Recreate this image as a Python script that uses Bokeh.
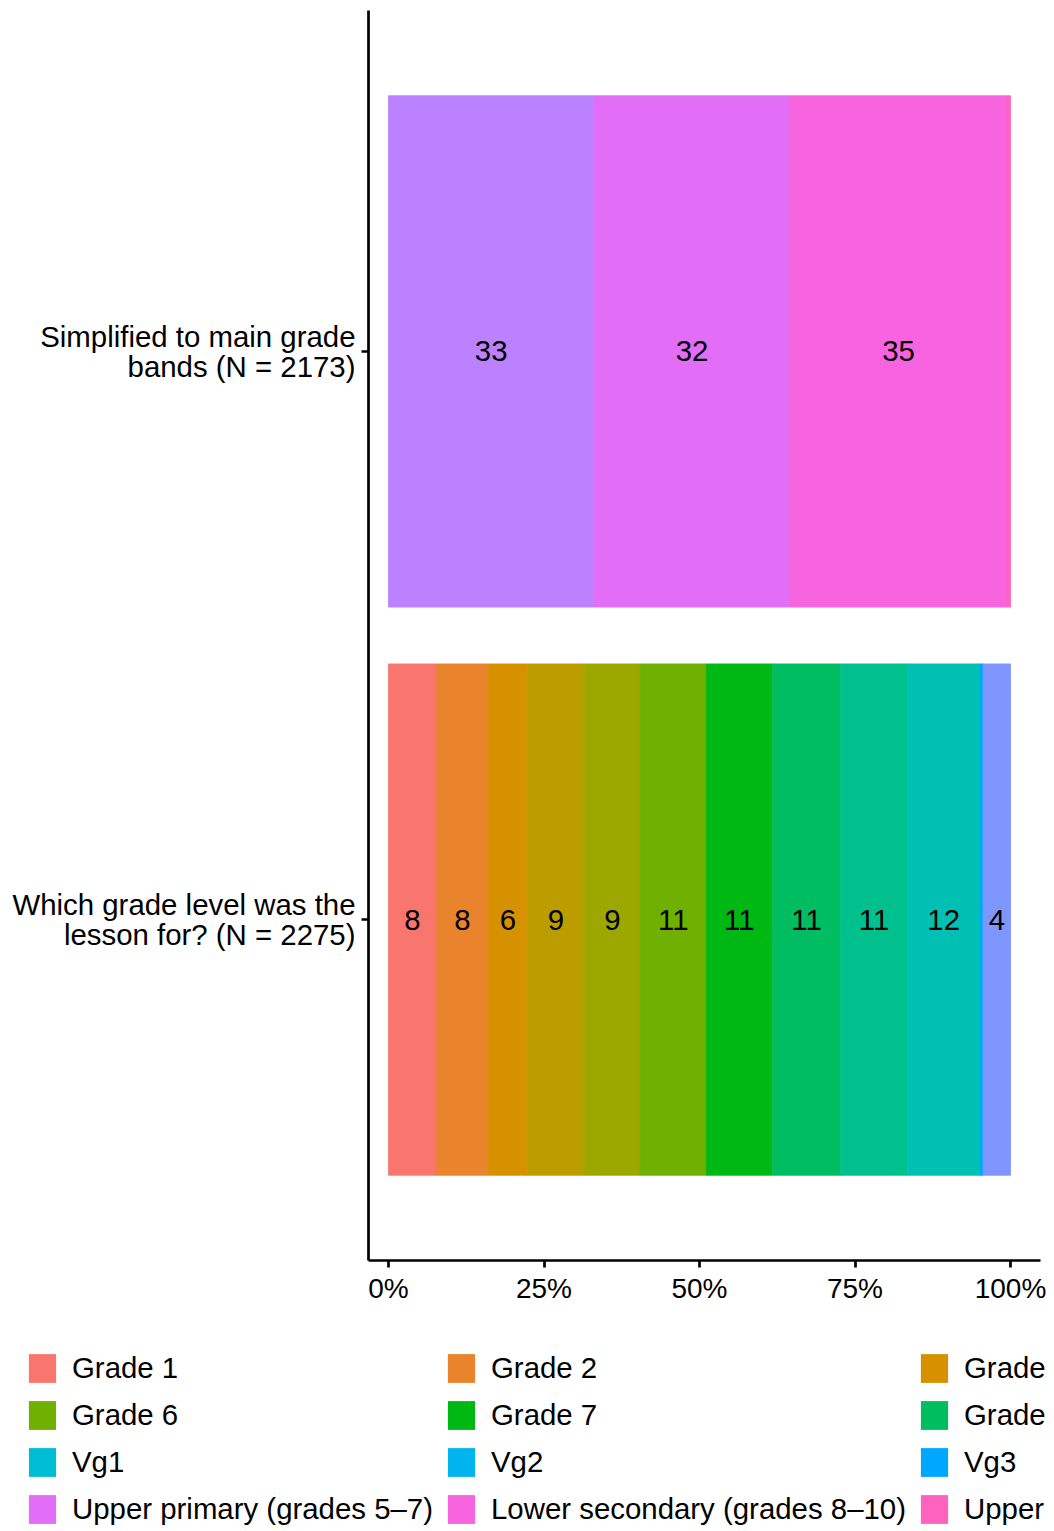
import math
from bokeh.plotting import figure
from bokeh.layouts import column
from bokeh.models import (ColumnDataSource, Range1d, FixedTicker, NumeralTickFormatter,
                          Legend, LegendItem)
from bokeh.core.properties import value
from bokeh.embed import file_html
from bokeh.resources import INLINE

# ---------------- data ----------------
categories = ["Grade 1", "Grade 2", "Grade 3", "Grade 4", "Grade 5",
              "Grade 6", "Grade 7", "Grade 8", "Grade 9", "Grade 10",
              "Vg1", "Vg2", "Vg3", "Other",
              "Lower primary (grades 1–4)", "Upper primary (grades 5–7)",
              "Lower secondary (grades 8–10)", "Upper secondary (Vg1–Vg3)"]

bar_labels = ["Which grade level was the\nlesson for? (N = 2275)",
              "Simplified to main grade\nbands (N = 2173)"]

# percent of each category within each bar
detailed_pct = [7.7, 8.4, 6.2, 9.2, 9.0, 10.6, 10.6, 11.0, 10.7, 11.7,
                0.0, 0.0, 0.5, 4.4, 0.0, 0.0, 0.0, 0.0]
simplified_pct = [0.0, 0.0, 0.0, 0.0, 0.0, 0.0, 0.0, 0.0, 0.0, 0.0,
                  0.0, 0.0, 0.0, 0.0, 33.0, 31.6, 34.8, 0.6]

x_ticks = [0, 0.25, 0.5, 0.75, 1.0]

# ---------------- style ----------------
FONT = "Liberation Sans"
FS = "29.4px"
FS_TICK = "28px"


def hcl_hex(h, c=100.0, l=65.0):
    hr = math.radians(h)
    u, v = c * math.cos(hr), c * math.sin(hr)
    Xn, Yn, Zn = 95.047, 100.0, 108.883
    Y = Yn * ((l + 16) / 116) ** 3
    den = Xn + 15 * Yn + 3 * Zn
    un, vn = 4 * Xn / den, 9 * Yn / den
    up, vp = u / (13 * l) + un, v / (13 * l) + vn
    X = 9.0 * Y * up / (4 * vp)
    Z = -X / 3 - 5 * Y + 3 * Y / vp
    X, Y, Z = X / 100, Y / 100, Z / 100
    r = 3.240479 * X - 1.537150 * Y - 0.498535 * Z
    g = -0.969256 * X + 1.875992 * Y + 0.041556 * Z
    b = 0.055648 * X - 0.204043 * Y + 1.057311 * Z

    def gam(t):
        t = 12.92 * t if t <= 0.0031308 else 1.055 * t ** (1 / 2.4) - 0.055
        return int(round(max(0.0, min(1.0, t)) * 255))
    return "#%02X%02X%02X" % (gam(r), gam(g), gam(b))


palette = [hcl_hex(15 + i * 360 / 19) for i in range(len(categories))]

# ---------------- main chart ----------------
p = figure(width=1046, height=1320, output_backend="svg", toolbar_location=None,
           x_range=Range1d(-20 / 622, 1 + 30 / 622), y_range=Range1d(0.4, 2.6),
           min_border_left=368, min_border_right=6, min_border_top=10,
           min_border_bottom=60)
p.frame_align = False
p.outline_line_color = None
p.xgrid.visible = False
p.ygrid.visible = False
p.background_fill_color = "white"

series = [detailed_pct, simplified_pct]
starts = []
for pct in series:
    acc = 0.0
    row = []
    for v in pct:
        row.append(acc)
        acc += v
    starts.append(row)

for ci, cat in enumerate(categories):
    ys, lefts, rights = [], [], []
    for bi, pct in enumerate(series):
        if pct[ci] > 0:
            ys.append(bi + 1)
            lefts.append(starts[bi][ci] / 100)
            rights.append((starts[bi][ci] + pct[ci]) / 100)
    src = ColumnDataSource(dict(y=ys, left=lefts, right=rights))
    p.hbar(y="y", left="left", right="right", height=0.9, source=src,
           fill_color=palette[ci], line_color=palette[ci], line_width=0.8)

# value labels
tx, ty, tt = [], [], []
for bi, pct in enumerate(series):
    for ci, v in enumerate(pct):
        if v >= 1:
            tx.append((starts[bi][ci] + v / 2) / 100)
            ty.append(bi + 1)
            tt.append(str(int(round(v))))
p.text(x=tx, y=ty, text=tt, text_align="center", text_baseline="middle",
       text_font=value(FONT), text_font_size=FS, text_color="black")

for ax in (p.xaxis[0], p.yaxis[0]):
    ax.axis_line_width = 2.7
    ax.axis_line_color = "black"
    ax.major_tick_line_width = 2.7
    ax.major_tick_line_color = "black"
    ax.major_tick_out = 7
    ax.major_tick_in = 0
    ax.minor_tick_line_color = None
    ax.major_label_text_font = FONT
    ax.major_label_text_color = "black"

p.xaxis.major_label_text_font_size = FS_TICK
p.xaxis.ticker = FixedTicker(ticks=x_ticks)
p.xaxis.formatter = NumeralTickFormatter(format="0%")
p.xaxis.major_label_standoff = 5

p.yaxis.major_label_text_font_size = FS
p.yaxis.ticker = FixedTicker(ticks=[1, 2])
p.yaxis.major_label_overrides = {1: bar_labels[0], 2: bar_labels[1]}
p.yaxis.major_label_standoff = 6
p.yaxis.major_label_text_line_height = 0.93

# ---------------- legend strip ----------------
lg = figure(width=1046, height=205, output_backend="svg", toolbar_location=None,
            x_range=Range1d(0, 1), y_range=Range1d(0, 1),
            x_axis_type=None, y_axis_type=None,
            min_border_left=25, min_border_top=30, min_border_right=0,
            min_border_bottom=0)
lg.frame_align = False
lg.outline_line_color = None

items = []
for ci, cat in enumerate(categories):
    # key renderer: one row placed outside the visible range, only its legend glyph shows
    r = lg.hbar(y=[-5], left=[0], right=[1], height=0.9,
                fill_color=palette[ci], line_color=None)
    items.append(LegendItem(label=cat, renderers=[r]))

legend = Legend(items=items, orientation="horizontal", ncols=5,
                location="top_left",
                glyph_width=34, glyph_height=36, label_standoff=13,
                spacing=11, padding=0, margin=0,
                label_text_font=FONT, label_text_font_size=FS,
                label_text_color="black",
                background_fill_alpha=0, border_line_color=None)
lg.add_layout(legend, "center")

layout = column(p, lg, spacing=0)
open("out.html", "w").write(file_html(layout, INLINE))
